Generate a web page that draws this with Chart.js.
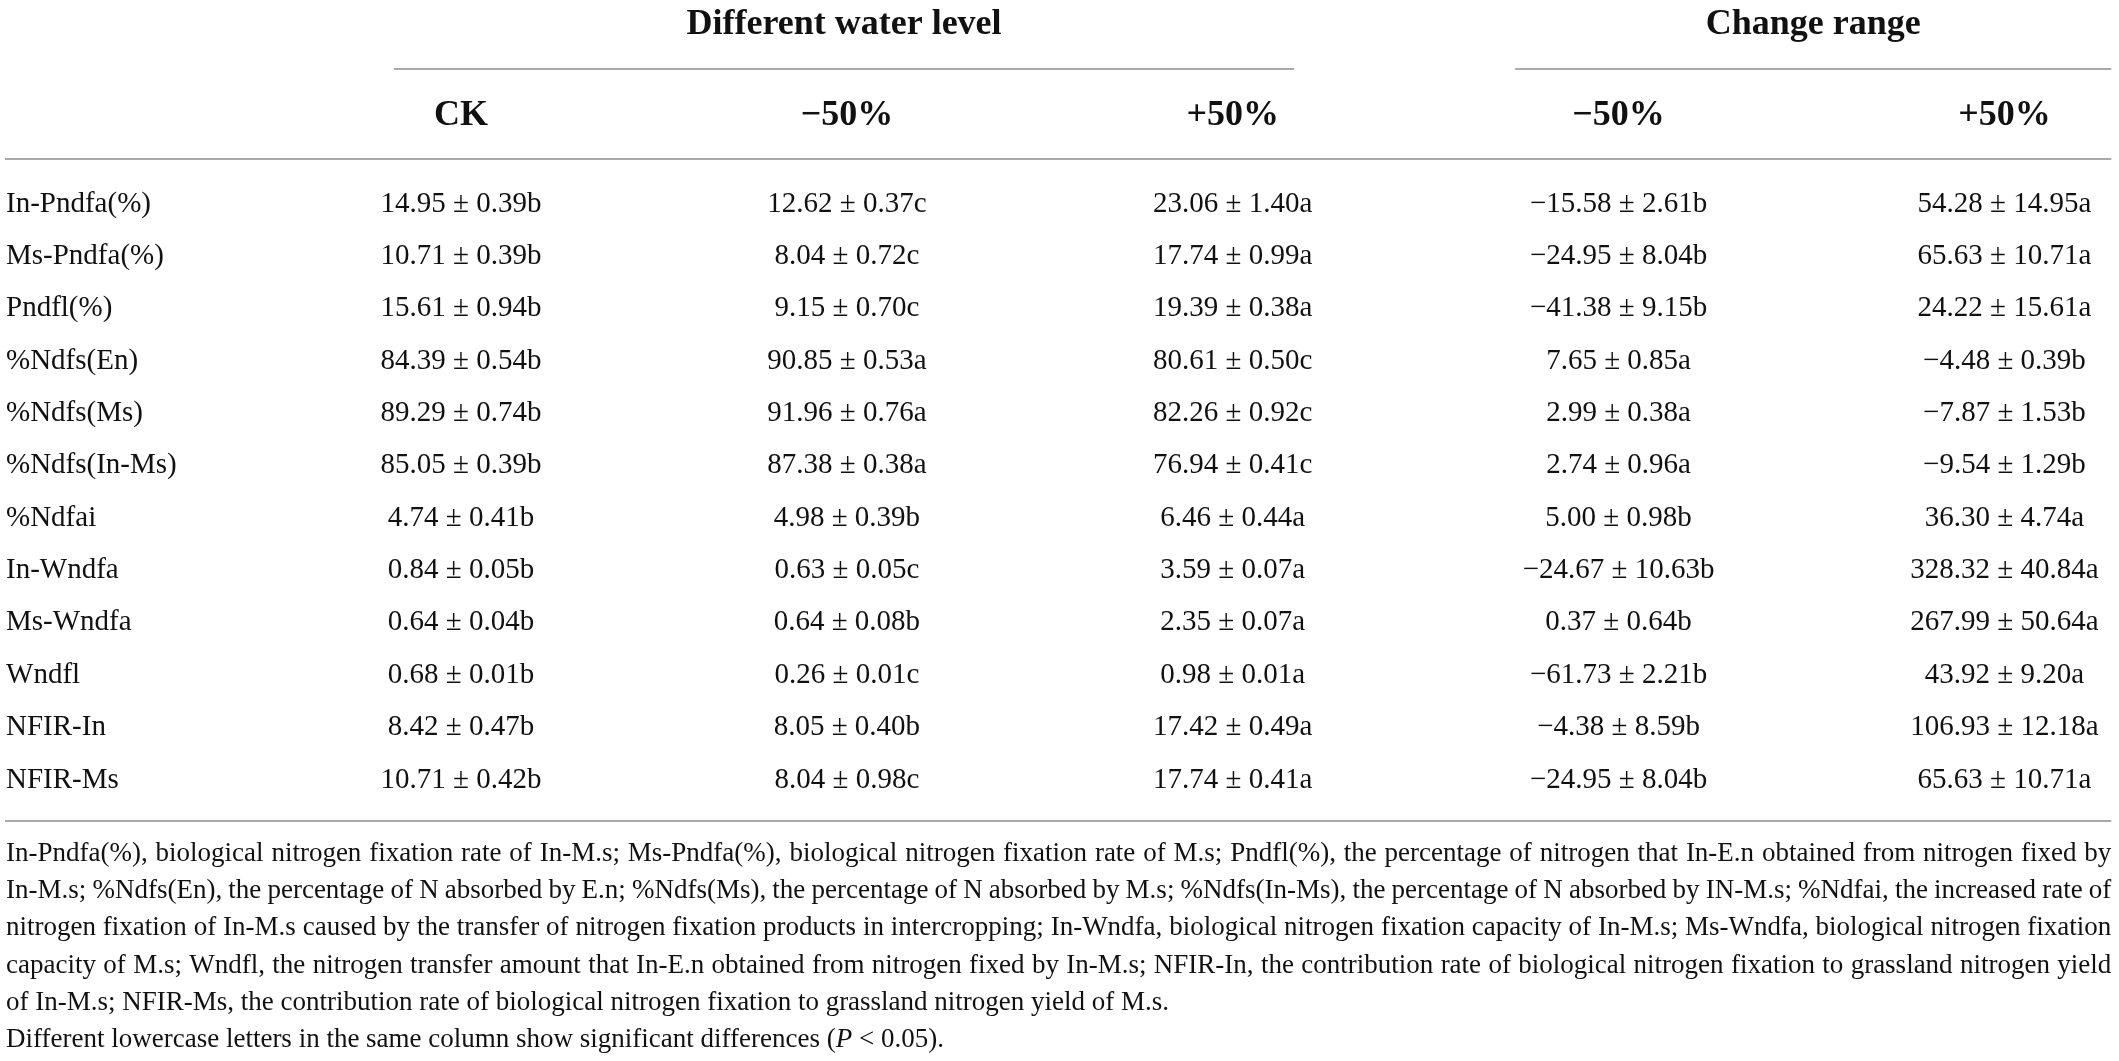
<!DOCTYPE html>
<html>
<head>
<meta charset="utf-8">
<script src="https://cdn.jsdelivr.net/npm/chart.js@4.4.1/dist/chart.umd.min.js"></script>
<style>
  html, body { margin: 0; padding: 0; background: #fff; }
  #wrap { position: relative; width: 2119px; height: 1061px; }
</style>
</head>
<body>
<div id="wrap"><canvas id="tableChart"></canvas></div>
<script>
// row names and column headers
const rowNames = ['In-Pndfa(%)', 'Ms-Pndfa(%)', 'Pndfl(%)', '%Ndfs(En)', '%Ndfs(Ms)', '%Ndfs(In-Ms)',
  '%Ndfai', 'In-Wndfa', 'Ms-Wndfa', 'Wndfl', 'NFIR-In', 'NFIR-Ms'];
const columnLabels = ['CK', '\u221250%', '+50%', '\u221250%', '+50%'];
const groupLabels = ['Different water level', 'Change range'];

// Different water level
const ckMean = [14.95, 10.71, 15.61, 84.39, 89.29, 85.05, 4.74, 0.84, 0.64, 0.68, 8.42, 10.71];
const ckSE = [0.39, 0.39, 0.94, 0.54, 0.74, 0.39, 0.41, 0.05, 0.04, 0.01, 0.47, 0.42];
const ckSig = ['b', 'b', 'b', 'b', 'b', 'b', 'b', 'b', 'b', 'b', 'b', 'b'];

const lowMean = [12.62, 8.04, 9.15, 90.85, 91.96, 87.38, 4.98, 0.63, 0.64, 0.26, 8.05, 8.04];
const lowSE = [0.37, 0.72, 0.70, 0.53, 0.76, 0.38, 0.39, 0.05, 0.08, 0.01, 0.40, 0.98];
const lowSig = ['c', 'c', 'c', 'a', 'a', 'a', 'b', 'c', 'b', 'c', 'b', 'c'];

const highMean = [23.06, 17.74, 19.39, 80.61, 82.26, 76.94, 6.46, 3.59, 2.35, 0.98, 17.42, 17.74];
const highSE = [1.40, 0.99, 0.38, 0.50, 0.92, 0.41, 0.44, 0.07, 0.07, 0.01, 0.49, 0.41];
const highSig = ['a', 'a', 'a', 'c', 'c', 'c', 'a', 'a', 'a', 'a', 'a', 'a'];

// Change range
const lowChange = [-15.58, -24.95, -41.38, 7.65, 2.99, 2.74, 5.00, -24.67, 0.37, -61.73, -4.38, -24.95];
const lowChangeSE = [2.61, 8.04, 9.15, 0.85, 0.38, 0.96, 0.98, 10.63, 0.64, 2.21, 8.59, 8.04];
const lowChangeSig = ['b', 'b', 'b', 'a', 'a', 'a', 'b', 'b', 'b', 'b', 'b', 'b'];

const highChange = [54.28, 65.63, 24.22, -4.48, -7.87, -9.54, 36.30, 328.32, 267.99, 43.92, 106.93, 65.63];
const highChangeSE = [14.95, 10.71, 15.61, 0.39, 1.53, 1.29, 4.74, 40.84, 50.64, 9.20, 12.18, 10.71];
const highChangeSig = ['a', 'a', 'a', 'b', 'b', 'b', 'a', 'a', 'a', 'a', 'a', 'a'];

const footnoteLines = [
  'In-Pndfa(%), biological nitrogen fixation rate of In-M.s; Ms-Pndfa(%), biological nitrogen fixation rate of M.s; Pndfl(%), the percentage of nitrogen that In-E.n obtained from nitrogen fixed by',
  'In-M.s; %Ndfs(En), the percentage of N absorbed by E.n; %Ndfs(Ms), the percentage of N absorbed by M.s; %Ndfs(In-Ms), the percentage of N absorbed by IN-M.s; %Ndfai, the increased rate of',
  'nitrogen fixation of In-M.s caused by the transfer of nitrogen fixation products in intercropping; In-Wndfa, biological nitrogen fixation capacity of In-M.s; Ms-Wndfa, biological nitrogen fixation',
  'capacity of M.s; Wndfl, the nitrogen transfer amount that In-E.n obtained from nitrogen fixed by In-M.s; NFIR-In, the contribution rate of biological nitrogen fixation to grassland nitrogen yield',
  'of In-M.s; NFIR-Ms, the contribution rate of biological nitrogen fixation to grassland nitrogen yield of M.s.'
];
const lastNote = ['Different lowercase letters in the same column show significant differences (', 'P', ' < 0.05).'];

const columns = [
  [ckMean, ckSE, ckSig],
  [lowMean, lowSE, lowSig],
  [highMean, highSE, highSig],
  [lowChange, lowChangeSE, lowChangeSig],
  [highChange, highChangeSE, highChangeSig]
];

const SERIF = '"Liberation Serif", "Times New Roman", serif';
const BODY_FONT = '29px ' + SERIF;
const NOTE_FONT = '27px ' + SERIF;
const HEAD_FONT = 'bold 36px ' + SERIF;
const TEXT_COLOR = '#111';
const RULE_COLOR = '#a9a9a9';

function fmt(v) {
  return v.toFixed(2).replace('-', '\u2212');
}

// one invisible scatter dataset per column, the text is drawn on its points by the plugin
const datasets = columns.map(function (col, c) {
  return {
    label: columnLabels[c],
    data: col[0].map(function (v, r) { return { x: c + 1, y: r }; }),
    cellText: col[0].map(function (v, r) { return fmt(v) + ' \u00b1 ' + fmt(col[1][r]) + col[2][r]; }),
    pointRadius: 0,
    pointHoverRadius: 0
  };
});

// layout in axis units (x: column index, y: row index)
const LEFT_EDGE = -0.182;
const RIGHT_EDGE = 5.277;
const TITLE_Y = -3.42;
const GROUP_RULE_Y = -2.58;
const HEAD_Y = -1.68;
const HEAD_RULE_Y = -0.86;
const FOOT_RULE_Y = 11.78;
const FOOT_START_Y = 12.41;
const FOOT_STEP = 0.712;
const groupSpans = [[0.826, 3.159], [3.732, 5.277]];

function drawJustified(ctx, text, x0, x1, y) {
  const words = text.split(' ');
  const total = words.reduce(function (s, w) { return s + ctx.measureText(w).width; }, 0);
  const gap = (x1 - x0 - total) / (words.length - 1);
  let x = x0;
  words.forEach(function (w) {
    ctx.fillText(w, x, y);
    x += ctx.measureText(w).width + gap;
  });
}

const tablePlugin = {
  id: 'tableText',
  afterDatasetsDraw(chart) {
    const ctx = chart.ctx;
    const xs = chart.scales.x;
    const ys = chart.scales.y;
    const left = xs.getPixelForValue(LEFT_EDGE);
    const right = xs.getPixelForValue(RIGHT_EDGE);
    ctx.save();
    ctx.fillStyle = TEXT_COLOR;
    ctx.textBaseline = 'middle';

    // rules
    ctx.strokeStyle = RULE_COLOR;
    ctx.lineWidth = 2;
    function rule(a, b, yv) {
      const py = Math.round(ys.getPixelForValue(yv));
      ctx.beginPath();
      ctx.moveTo(a, py);
      ctx.lineTo(b, py);
      ctx.stroke();
    }
    groupSpans.forEach(function (s) {
      rule(xs.getPixelForValue(s[0]), xs.getPixelForValue(s[1]), GROUP_RULE_Y);
    });
    rule(left, right, HEAD_RULE_Y);
    rule(left, right, FOOT_RULE_Y);

    // group titles and column headers
    ctx.font = HEAD_FONT;
    ctx.textAlign = 'center';
    groupSpans.forEach(function (s, i) {
      ctx.fillText(groupLabels[i], xs.getPixelForValue((s[0] + s[1]) / 2), ys.getPixelForValue(TITLE_Y));
    });
    columnLabels.forEach(function (lab, c) {
      ctx.fillText(lab, xs.getPixelForValue(c + 1), ys.getPixelForValue(HEAD_Y));
    });

    // row labels
    ctx.font = BODY_FONT;
    ctx.textAlign = 'left';
    rowNames.forEach(function (name, r) {
      ctx.fillText(name, left + 1, ys.getPixelForValue(r));
    });

    // cells
    ctx.textAlign = 'center';
    chart.data.datasets.forEach(function (ds, i) {
      chart.getDatasetMeta(i).data.forEach(function (pt, j) {
        ctx.fillText(ds.cellText[j], pt.x, pt.y);
      });
    });

    // footnote
    ctx.font = NOTE_FONT;
    ctx.textAlign = 'left';
    footnoteLines.forEach(function (line, i) {
      const py = ys.getPixelForValue(FOOT_START_Y + i * FOOT_STEP);
      if (i < footnoteLines.length - 1) drawJustified(ctx, line, left + 1, right, py);
      else ctx.fillText(line, left + 1, py);
    });
    const py = ys.getPixelForValue(FOOT_START_Y + footnoteLines.length * FOOT_STEP);
    let x = left + 1;
    lastNote.forEach(function (part, i) {
      ctx.font = (i === 1 ? 'italic ' : '') + NOTE_FONT;
      ctx.fillText(part, x, py);
      x += ctx.measureText(part).width;
    });
    ctx.restore();
  }
};

const canvas = document.getElementById('tableChart');
new Chart(canvas.getContext('2d'), {
  type: 'scatter',
  data: { datasets: datasets },
  options: {
    responsive: true,
    maintainAspectRatio: false,
    animation: false,
    layout: { padding: 0 },
    plugins: { legend: { display: false }, tooltip: { enabled: false } },
    scales: {
      x: { type: 'linear', min: -0.195, max: 5.297, display: false },
      y: { type: 'linear', min: -3.896, max: 16.368, reverse: true, display: false }
    }
  },
  plugins: [tablePlugin]
});
</script>
</body>
</html>
